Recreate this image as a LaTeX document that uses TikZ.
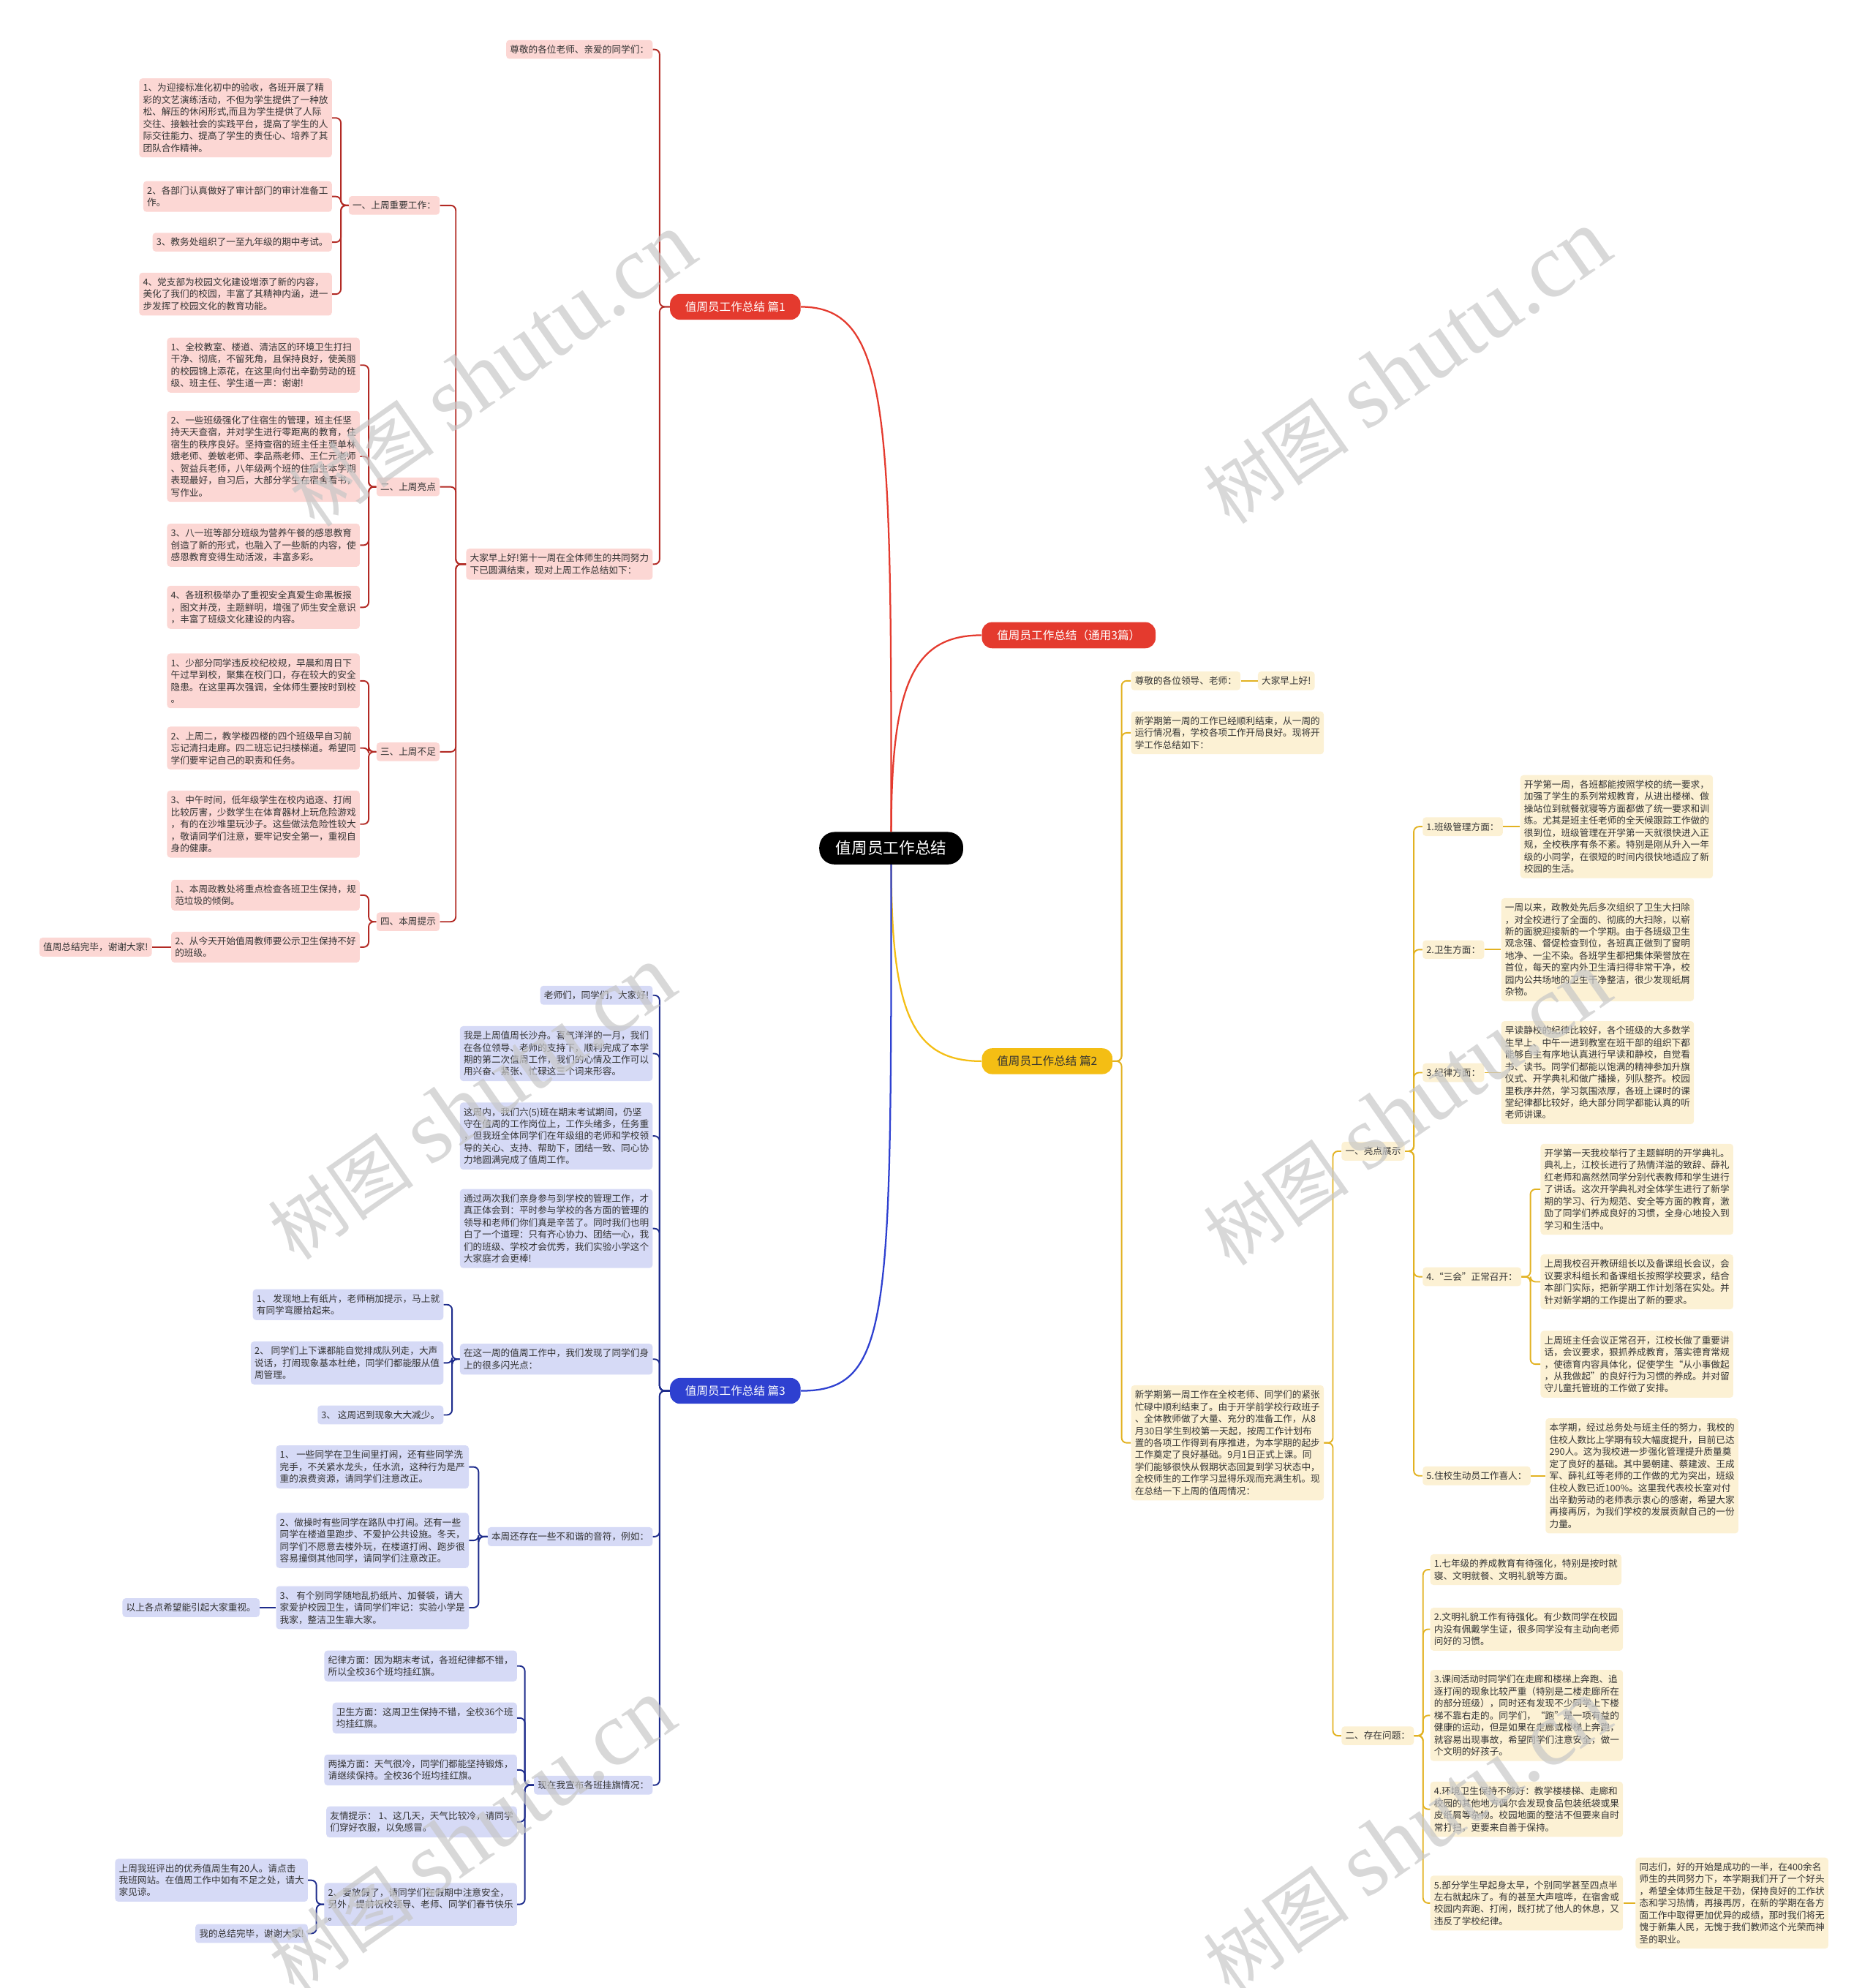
\documentclass[tikz,border=0pt]{standalone}
\usepackage{fontspec}
\setmainfont{Noto Sans CJK SC}
\newfontfamily\wmfont{Liberation Serif}
\usetikzlibrary{positioning}
\usetikzlibrary{calc}
\definecolor{redmain}{RGB}{228,58,46}
\definecolor{redfill}{RGB}{252,215,212}
\definecolor{redline}{RGB}{178,42,36}
\definecolor{bluemain}{RGB}{46,64,208}
\definecolor{bluefill}{RGB}{214,218,246}
\definecolor{blueline}{RGB}{30,44,140}
\definecolor{yelmain}{RGB}{244,190,20}
\definecolor{yelfill}{RGB}{252,241,212}
\definecolor{yelline}{RGB}{226,178,34}
\definecolor{textgray}{RGB}{51,51,51}
\newcommand{\boxfont}{\fontsize{7.3}{9.5}\selectfont}
\newcommand{\headfont}{\fontsize{9}{11}\selectfont}

\begin{document}
\begin{tikzpicture}[x=1pt, y=-1pt,
    box/.style={rounded corners=2.5pt, inner xsep=3pt, inner ysep=4pt, align=left, font=\boxfont, text=textgray},
    rtxt/.style={box, fill=redfill},
    btxt/.style={box, fill=bluefill},
    ytxt/.style={box, fill=yelfill},
    head/.style={rounded corners=8pt, inner xsep=12pt, inner ysep=6pt, font=\headfont},
    rcon/.style={draw=redline, line width=1.1pt, rounded corners=4pt},
    bcon/.style={draw=blueline, line width=1.1pt, rounded corners=4pt},
    ycon/.style={draw=yelline, line width=1.1pt, rounded corners=4pt}]
\useasboundingbox (0,0) rectangle (1477,1568);

% Centre and the four branches
\node[fill=black, text=white, rounded corners=12pt, inner xsep=13pt, inner ysep=7pt,
      font=\fontsize{12.5}{14}\selectfont] (ctr) at (703,669) {值周员工作总结};
\node[head, fill=redmain, text=white] (p0) at (843,501) {值周员工作总结（通用3篇）};
\node[head, fill=redmain, text=white] (p1) at (580,242) {值周员工作总结 篇1};
\node[head, fill=yelmain, text=textgray] (p2) at (826,837) {值周员工作总结 篇2};
\node[head, fill=bluemain, text=white] (p3) at (580,1097) {值周员工作总结 篇3};

\draw[redmain, line width=1.3pt] (ctr.north) .. controls (703,330) and (703,242) .. (p1.east);
\draw[redmain, line width=1.3pt] (ctr.north) .. controls (703,540) and (720,501) .. (p0.west);
\draw[yelmain, line width=1.3pt] (ctr.south) .. controls (703,800) and (720,837) .. (p2.west);
\draw[bluemain, line width=1.3pt] (ctr.south) .. controls (703,1040) and (703,1097) .. (p3.east);

% Branch 1 (red)
\node[rtxt, anchor=east] (r0) at (515,39) {尊敬的各位老师、亲爱的同学们：};
\node[rtxt, anchor=east] (r1) at (515,445) {大家早上好!第十一周在全体师生的共同努力\\下已圆满结束，现对上周工作总结如下：};
\node[rtxt, anchor=east] (a) at (347,162) {一、上周重要工作：};
\node[rtxt, anchor=east] (b) at (347,384) {二、上周亮点};
\node[rtxt, anchor=east] (c) at (347,593) {三、上周不足};
\node[rtxt, anchor=east] (d) at (347,727) {四、本周提示};
\node[rtxt, anchor=east] (a1) at (262,93) {1、为迎接标准化初中的验收，各班开展了精\\彩的文艺演练活动，不但为学生提供了一种放\\松、解压的休闲形式,而且为学生提供了人际\\交往、接触社会的实践平台，提高了学生的人\\际交往能力、提高了学生的责任心、培养了其\\团队合作精神。};
\node[rtxt, anchor=east] (a2) at (262,155) {2、各部门认真做好了审计部门的审计准备工\\作。};
\node[rtxt, anchor=east] (a3) at (262,191) {3、教务处组织了一至九年级的期中考试。};
\node[rtxt, anchor=east] (a4) at (262,232) {4、党支部为校园文化建设增添了新的内容，\\美化了我们的校园，丰富了其精神内涵，进一\\步发挥了校园文化的教育功能。};
\node[rtxt, anchor=east] (b1) at (284,288) {1、全校教室、楼道、清洁区的环境卫生打扫\\干净、彻底，不留死角，且保持良好，使美丽\\的校园锦上添花，在这里向付出辛勤劳动的班\\级、班主任、学生道一声：谢谢!};
\node[rtxt, anchor=east] (b2) at (284,360) {2、一些班级强化了住宿生的管理，班主任坚\\持天天查宿，并对学生进行零距离的教育，住\\宿生的秩序良好。坚持查宿的班主任主要单林\\娥老师、姜敏老师、李品燕老师、王仁元老师\\、贺益兵老师，八年级两个班的住宿生本学期\\表现最好，自习后，大部分学生在宿舍看书，\\写作业。};
\node[rtxt, anchor=east] (b3) at (284,430) {3、八一班等部分班级为营养午餐的感恩教育\\创造了新的形式，也融入了一些新的内容，使\\感恩教育变得生动活泼，丰富多彩。};
\node[rtxt, anchor=east] (b4) at (284,479) {4、各班积极举办了重视安全真爱生命黑板报\\，图文并茂，主题鲜明，增强了师生安全意识\\，丰富了班级文化建设的内容。};
\node[rtxt, anchor=east] (c1) at (284,537) {1、少部分同学违反校纪校规，早晨和周日下\\午过早到校，聚集在校门口，存在较大的安全\\隐患。在这里再次强调，全体师生要按时到校\\。};
\node[rtxt, anchor=east] (c2) at (284,590) {2、上周二，教学楼四楼的四个班级早自习前\\忘记清扫走廊。四二班忘记扫楼梯道。希望同\\学们要牢记自己的职责和任务。};
\node[rtxt, anchor=east] (c3) at (284,650) {3、中午时间，低年级学生在校内追逐、打闹\\比较厉害，少数学生在体育器材上玩危险游戏\\，有的在沙堆里玩沙子。这些做法危险性较大\\，敬请同学们注意，要牢记安全第一，重视自\\身的健康。};
\node[rtxt, anchor=east] (d1) at (284,706) {1、本周政教处将重点检查各班卫生保持，规\\范垃圾的倾倒。};
\node[rtxt, anchor=east] (d2) at (284,747) {2、从今天开始值周教师要公示卫生保持不好\\的班级。};
\node[rtxt, anchor=east] (d3) at (120,747) {值周总结完毕，谢谢大家!};

\foreach \pa/\ch/\dd in {p1/r0/8, p1/r1/8, r1/a/8, r1/b/8, r1/c/8, r1/d/8,
    a/a1/6, a/a2/6, a/a3/6, a/a4/6, b/b1/6, b/b2/6, b/b3/6, b/b4/6,
    c/c1/6, c/c2/6, c/c3/6, d/d1/6, d/d2/6}
  \draw[rcon] (\pa.west) -- ++(-\dd,0) |- (\ch.east);
\draw[rcon] (d2.west) -- (d3.east);

% Branch 3 (blue)
\node[btxt, anchor=east] (u0) at (515,785) {老师们，同学们，大家好!};
\node[btxt, anchor=east] (u1) at (515,831) {我是上周值周长沙舟。喜气洋洋的一月，我们\\在各位领导、老师的支持下，顺利完成了本学\\期的第二次值周工作，我们的心情及工作可以\\用兴奋、紧张、忙碌这三个词来形容。};
\node[btxt, anchor=east] (u2) at (515,896) {这周内，我们六(5)班在期末考试期间，仍坚\\守在值周的工作岗位上，工作头绪多，任务重\\，但我班全体同学们在年级组的老师和学校领\\导的关心、支持、帮助下，团结一致、同心协\\力地圆满完成了值周工作。};
\node[btxt, anchor=east] (u3) at (515,969) {通过两次我们亲身参与到学校的管理工作，才\\真正体会到：平时参与学校的各方面的管理的\\领导和老师们你们真是辛苦了。同时我们也明\\白了一个道理：只有齐心协力、团结一心，我\\们的班级、学校才会优秀，我们实验小学这个\\大家庭才会更棒!};
\node[btxt, anchor=east] (u4) at (515,1072) {在这一周的值周工作中，我们发现了同学们身\\上的很多闪光点：};
\node[btxt, anchor=east] (u5) at (515,1212) {本周还存在一些不和谐的音符，例如：};
\node[btxt, anchor=east] (u6) at (515,1408) {现在我宣布各班挂旗情况：};
\node[btxt, anchor=east] (u41) at (350,1029) {1、 发现地上有纸片，老师稍加提示，马上就\\有同学弯腰拾起来。};
\node[btxt, anchor=east] (u42) at (350,1075) {2、 同学们上下课都能自觉排成队列走，大声\\说话，打闹现象基本杜绝，同学们都能服从值\\周管理。};
\node[btxt, anchor=east] (u43) at (350,1116) {3、 这周迟到现象大大减少。};
\node[btxt, anchor=east] (u51) at (370,1157) {1、 一些同学在卫生间里打闹，还有些同学洗\\完手，不关紧水龙头，任水流，这种行为是严\\重的浪费资源，请同学们注意改正。};
\node[btxt, anchor=east] (u52) at (370,1215) {2、做操时有些同学在路队中打闹。还有一些\\同学在楼道里跑步、不爱护公共设施。冬天，\\同学们不愿意去楼外玩，在楼道打闹、跑步很\\容易撞倒其他同学，请同学们注意改正。};
\node[btxt, anchor=east] (u53) at (370,1268) {3、 有个别同学随地乱扔纸片、加餐袋，请大\\家爱护校园卫生，请同学们牢记：实验小学是\\我家，整洁卫生靠大家。};
\node[btxt, anchor=east] (u531) at (205,1268) {以上各点希望能引起大家重视。};
\node[btxt, anchor=east] (u61) at (408,1314) {纪律方面：因为期末考试，各班纪律都不错，\\所以全校36个班均挂红旗。};
\node[btxt, anchor=east] (u62) at (408,1355) {卫生方面：这周卫生保持不错，全校36个班\\均挂红旗。};
\node[btxt, anchor=east] (u63) at (408,1396) {两操方面：天气很冷，同学们都能坚持锻炼，\\请继续保持。全校36个班均挂红旗。};
\node[btxt, anchor=east] (u64) at (408,1437) {友情提示： 1、这几天，天气比较冷，请同学\\们穿好衣服，以免感冒。};
\node[btxt, anchor=east] (u65) at (408,1502) {2、要放假了，请同学们在假期中注意安全，\\另外，提前祝校领导、老师、同学们春节快乐\\。};
\node[btxt, anchor=east] (u651) at (243,1483) {上周我班评出的优秀值周生有20人。请点击\\我班网站。在值周工作中如有不足之处，请大\\家见谅。};
\node[btxt, anchor=east] (u652) at (243,1525) {我的总结完毕，谢谢大家!};

\foreach \pa/\ch/\dd in {p3/u0/8, p3/u1/8, p3/u2/8, p3/u3/8, p3/u4/8, p3/u5/8, p3/u6/8,
    u4/u41/6, u4/u42/6, u4/u43/6, u5/u51/7, u5/u52/7, u5/u53/7,
    u6/u61/7, u6/u62/7, u6/u63/7, u6/u64/7, u6/u65/7, u65/u651/6, u65/u652/6}
  \draw[bcon] (\pa.west) -- ++(-\dd,0) |- (\ch.east);
\draw[bcon] (u53.west) -- (u531.east);

% Branch 2 (yellow)
\node[ytxt, anchor=west] (y0) at (892,537) {尊敬的各位领导、老师：};
\node[ytxt, anchor=west] (y01) at (992,537) {大家早上好!};
\node[ytxt, anchor=west] (y1) at (892,578) {新学期第一周的工作已经顺利结束，从一周的\\运行情况看，学校各项工作开局良好。现将开\\学工作总结如下：};
\node[ytxt, anchor=west] (y2) at (892,1138) {新学期第一周工作在全校老师、同学们的紧张\\忙碌中顺利结束了。由于开学前学校行政班子\\、全体教师做了大量、充分的准备工作，从8\\月30日学生到校第一天起，按周工作计划布\\置的各项工作得到有序推进，为本学期的起步\\工作奠定了良好基础。9月1日正式上课。同\\学们能够很快从假期状态回复到学习状态中，\\全校师生的工作学习显得乐观而充满生机。现\\在总结一下上周的值周情况：};
\node[ytxt, anchor=west] (g) at (1058,908) {一、亮点展示};
\node[ytxt, anchor=west] (h) at (1058,1369) {二、存在问题：};
\node[ytxt, anchor=west] (g1) at (1122,652) {1.班级管理方面：};
\node[ytxt, anchor=west] (g1t) at (1199,652) {开学第一周，各班都能按照学校的统一要求，\\加强了学生的系列常规教育，从进出楼梯、做\\操站位到就餐就寝等方面都做了统一要求和训\\练。尤其是班主任老师的全天候跟踪工作做的\\很到位，班级管理在开学第一天就很快进入正\\规，全校秩序有条不紊。特别是刚从升入一年\\级的小同学，在很短的时间内很快地适应了新\\校园的生活。};
\node[ytxt, anchor=west] (g2) at (1122,749) {2.卫生方面：};
\node[ytxt, anchor=west] (g2t) at (1184,749) {一周以来，政教处先后多次组织了卫生大扫除\\，对全校进行了全面的、彻底的大扫除，以崭\\新的面貌迎接新的一个学期。由于各班级卫生\\观念强、督促检查到位，各班真正做到了窗明\\地净、一尘不染。各班学生都把集体荣誉放在\\首位，每天的室内外卫生清扫得非常干净，校\\园内公共场地的卫生干净整洁，很少发现纸屑\\杂物。};
\node[ytxt, anchor=west] (g3) at (1122,846) {3.纪律方面：};
\node[ytxt, anchor=west] (g3t) at (1184,846) {早读静校的纪律比较好，各个班级的大多数学\\生早上、中午一进到教室在班干部的组织下都\\能够自主有序地认真进行早读和静校，自觉看\\书、读书。同学们都能以饱满的精神参加升旗\\仪式、开学典礼和做广播操，列队整齐。校园\\里秩序井然，学习氛围浓厚，各班上课时的课\\堂纪律都比较好，绝大部分同学都能认真的听\\老师讲课。};
\node[ytxt, anchor=west] (g4) at (1122,1007) {4.“三会”正常召开：};
\node[ytxt, anchor=west] (g41) at (1215,938) {开学第一天我校举行了主题鲜明的开学典礼。\\典礼上，江校长进行了热情洋溢的致辞、薛礼\\红老师和高然然同学分别代表教师和学生进行\\了讲话。这次开学典礼对全体学生进行了新学\\期的学习、行为规范、安全等方面的教育，激\\励了同学们养成良好的习惯，全身心地投入到\\学习和生活中。};
\node[ytxt, anchor=west] (g42) at (1215,1011) {上周我校召开教研组长以及备课组长会议，会\\议要求科组长和备课组长按照学校要求，结合\\本部门实际，把新学期工作计划落在实处。并\\针对新学期的工作提出了新的要求。};
\node[ytxt, anchor=west] (g43) at (1215,1076) {上周班主任会议正常召开，江校长做了重要讲\\话，会议要求，狠抓养成教育，落实德育常规\\，使德育内容具体化，促使学生“从小事做起\\，从我做起”的良好行为习惯的养成。并对留\\守儿童托管班的工作做了安排。};
\node[ytxt, anchor=west] (g5) at (1122,1164) {5.住校生动员工作喜人：};
\node[ytxt, anchor=west] (g5t) at (1219,1164) {本学期，经过总务处与班主任的努力，我校的\\住校人数比上学期有较大幅度提升，目前已达\\290人。这为我校进一步强化管理提升质量奠\\定了良好的基础。其中晏朝建、蔡建波、王成\\军、薛礼红等老师的工作做的尤为突出，班级\\住校人数已近100\%。这里我代表校长室对付\\出辛勤劳动的老师表示衷心的感谢，希望大家\\再接再厉，为我们学校的发展贡献自己的一份\\力量。};
\node[ytxt, anchor=west] (h1) at (1128,1238) {1.七年级的养成教育有待强化，特别是按时就\\寝、文明就餐、文明礼貌等方面。};
\node[ytxt, anchor=west] (h2) at (1128,1285) {2.文明礼貌工作有待强化。有少数同学在校园\\内没有佩戴学生证，很多同学没有主动向老师\\问好的习惯。};
\node[ytxt, anchor=west] (h3) at (1128,1353) {3.课间活动时同学们在走廊和楼梯上奔跑、追\\逐打闹的现象比较严重（特别是二楼走廊所在\\的部分班级），同时还有发现不少同学上下楼\\梯不靠右走的。同学们，“跑”是一项有益的\\健康的运动，但是如果在走廊或楼梯上奔跑，\\就容易出现事故，希望同学们注意安全，做一\\个文明的好孩子。};
\node[ytxt, anchor=west] (h4) at (1128,1427) {4.环境卫生保持不够好：教学楼楼梯、走廊和\\校园的其他地方偶尔会发现食品包装纸袋或果\\皮纸屑等杂物。校园地面的整洁不但要来自时\\常打扫，更要来自善于保持。};
\node[ytxt, anchor=west] (h5) at (1128,1501) {5.部分学生早起身太早，个别同学甚至四点半\\左右就起床了。有的甚至大声喧哗，在宿舍或\\校园内奔跑、打闹，既打扰了他人的休息，又\\违反了学校纪律。};
\node[ytxt, anchor=west] (h51) at (1290,1501) {同志们，好的开始是成功的一半，在400余名\\师生的共同努力下，本学期我们开了一个好头\\，希望全体师生鼓足干劲，保持良好的工作状\\态和学习热情，再接再厉，在新的学期在各方\\面工作中取得更加优异的成绩，那时我们将无\\愧于新集人民，无愧于我们教师这个光荣而神\\圣的职业。};

\foreach \pa/\ch/\dd in {p2/y0/7, p2/y1/7, p2/y2/7, y2/g/7, y2/h/7,
    g/g1/7, g/g2/7, g/g3/7, g/g4/7, g/g5/7,
    g4/g41/7, g4/g42/7, g4/g43/7, h/h1/7, h/h2/7, h/h3/7, h/h4/7, h/h5/7}
  \draw[ycon] (\pa.east) -- ++(\dd,0) |- (\ch.west);
\foreach \pa/\ch in {y0/y01, g1/g1t, g2/g2t, g3/g3t, g5/g5t, h5/h51}
  \draw[ycon] (\pa.east) -- (\ch.west);

% Watermarks
\foreach \wx/\wy in {388/292, 1110/290, 372/870, 1110/875, 372/1448, 1110/1448}
  \node[rotate=35, text=black!22, text opacity=0.7] at (\wx,\wy)
    {{\fontsize{58}{58}\selectfont 树图}\hspace{14pt}{\wmfont\fontsize{72}{72}\selectfont shutu.cn}};
\end{tikzpicture}
\end{document}
